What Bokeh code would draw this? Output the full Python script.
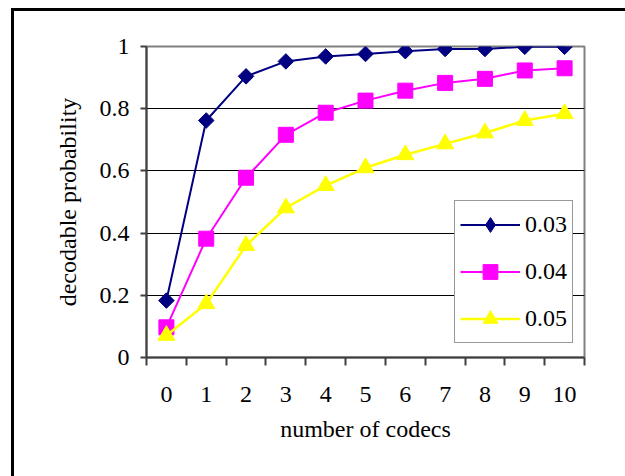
import numpy as np
from bokeh.plotting import figure
from bokeh.models import FixedTicker, Legend, LegendItem, InlineStyleSheet
from bokeh.embed import file_html
from bokeh.resources import INLINE

codecs = list(range(0, 11))
p03 = [0.183, 0.762, 0.904, 0.952, 0.968, 0.976, 0.985, 0.992, 0.992, 0.999, 0.999]
p04 = [0.097, 0.382, 0.578, 0.716, 0.787, 0.826, 0.858, 0.883, 0.896, 0.923, 0.930]
p05 = [0.071, 0.173, 0.360, 0.481, 0.553, 0.610, 0.652, 0.687, 0.722, 0.762, 0.784]
series_names = ["0.03", "0.04", "0.05"]
y_ticks = [0, 0.2, 0.4, 0.6, 0.8, 1.0]

FONT = "Liberation Serif"

p = figure(width=625, height=476, x_range=(-0.5, 10.5), y_range=(0, 1),
           output_backend="svg", toolbar_location=None,
           min_border_left=146, min_border_right=41, min_border_top=46, min_border_bottom=119)
# outer chart frame: only its left and top edges fall inside the picture.
# The canvas border is transparent so the element background (white + two black edges) shows.
p.stylesheets = [InlineStyleSheet(css=(
    ":host { background: linear-gradient(#000, #000) 11px 8px / 3px 600px no-repeat, "
    "linear-gradient(#000, #000) 11px 8px / 800px 3px no-repeat, #ffffff; overflow: hidden; }"))]
p.border_fill_alpha = 0
p.background_fill_color = "white"
p.outline_line_color = "#808080"
p.outline_line_width = 2

p.xgrid.visible = False
p.ygrid.ticker = FixedTicker(ticks=[0.2, 0.4, 0.6, 0.8])
p.ygrid.grid_line_color = "black"
p.ygrid.grid_line_width = 1

ya = p.yaxis[0]
ya.ticker = FixedTicker(ticks=y_ticks)
ya.major_label_overrides = {0: "0", 0.2: "0.2", 0.4: "0.4", 0.6: "0.6", 0.8: "0.8", 1.0: "1"}
ya.major_tick_out = 6
ya.major_tick_in = 0
ya.minor_tick_line_color = None
ya.major_tick_line_color = "#404040"
ya.major_tick_line_width = 2
ya.axis_line_color = "#404040"
ya.axis_line_width = 2
ya.major_label_text_font = FONT
ya.major_label_text_font_size = "24px"
ya.major_label_text_color = "black"
ya.major_label_standoff = 11
ya.axis_label = "decodable probability"
ya.axis_label_text_font = FONT
ya.axis_label_text_font_size = "24px"
ya.axis_label_text_font_style = "normal"
ya.axis_label_text_color = "black"
ya.axis_label_standoff = 16

xa = p.xaxis[0]
xa.ticker = FixedTicker(ticks=codecs, minor_ticks=[c - 0.5 for c in codecs] + [10.5])
xa.major_tick_out = 0
xa.major_tick_in = 0
xa.minor_tick_out = 8
xa.minor_tick_in = 0
xa.minor_tick_line_color = "#404040"
xa.minor_tick_line_width = 2
xa.axis_line_color = "#404040"
xa.axis_line_width = 2
xa.major_label_text_font = FONT
xa.major_label_text_font_size = "24px"
xa.major_label_text_color = "black"
xa.major_label_standoff = 21
xa.axis_label = "number of codecs"
xa.axis_label_text_font = FONT
xa.axis_label_text_font_size = "24px"
xa.axis_label_text_font_style = "normal"
xa.axis_label_text_color = "black"
xa.axis_label_standoff = 11

l1 = p.line(codecs, p03, line_color="#000080", line_width=2)
m1 = p.scatter(codecs, p03, marker="square", angle=np.pi / 4, size=11,
               fill_color="#000080", line_color="#000080")
l2 = p.line(codecs, p04, line_color="#FF00FF", line_width=2)
m2 = p.scatter(codecs, p04, marker="square", size=15,
               fill_color="#FF00FF", line_color="#FF00FF")
l3 = p.line(codecs, p05, line_color="#FFFF00", line_width=2.5)
m3 = p.scatter(codecs, p05, marker="triangle", size=17,
               fill_color="#FFFF00", line_color="#FFFF00")
# legend-only diamond (the legend draws markers unrotated); a NaN point draws nothing on the plot
m1_leg = p.scatter(x=[float("nan")], y=[float("nan")], marker="diamond", size=15,
                   fill_color="#000080", line_color="#000080")

legend = Legend(items=[
    LegendItem(label=series_names[0], renderers=[l1, m1_leg]),
    LegendItem(label=series_names[1], renderers=[l2, m2]),
    LegendItem(label=series_names[2], renderers=[l3, m3]),
], location=(308, 14))
legend.label_text_font = FONT
legend.label_text_font_size = "24px"
legend.label_text_color = "black"
legend.glyph_width = 60
legend.glyph_height = 37
legend.spacing = 10
legend.padding = 5
legend.margin = 0
legend.label_standoff = 5
legend.border_line_color = "#333333"
legend.border_line_width = 1
legend.background_fill_color = "white"
legend.background_fill_alpha = 1
p.add_layout(legend, "center")

open("out.html", "w").write(file_html(p, INLINE))
